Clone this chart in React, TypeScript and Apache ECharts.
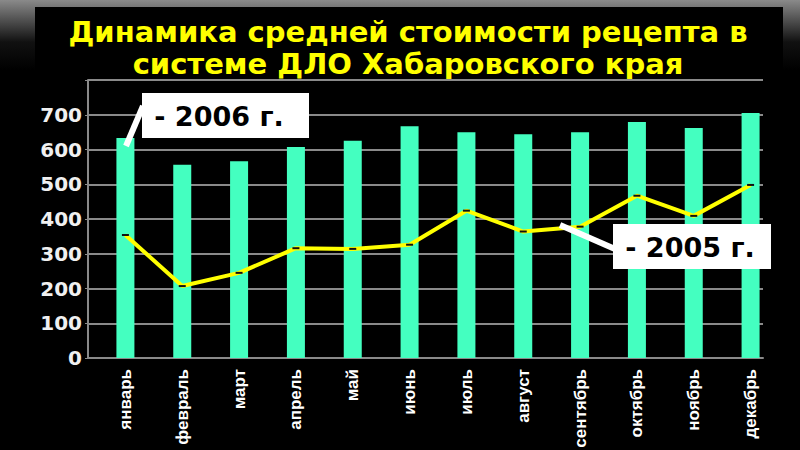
import React, { useEffect, useRef } from "react";
import * as echarts from "echarts";

const months = ["январь", "февраль", "март", "апрель", "май", "июнь", "июль", "август", "сентябрь", "октябрь", "ноябрь", "декабрь"];
const values2006 = [633, 556, 566, 607, 625, 667, 650, 644, 650, 679, 662, 705];
const values2005 = [354, 207, 245, 316, 314, 326, 424, 364, 378, 467, 409, 498];
const yTicks = [0, 100, 200, 300, 400, 500, 600, 700];
const titleLines = ["Динамика средней стоимости рецепта в", "системе ДЛО Хабаровского края"];
const label2006 = "- 2006 г.";
const label2005 = "- 2005 г.";

export default function App() {
  const ref = useRef<HTMLDivElement>(null);
  useEffect(() => {
    if (!ref.current) return;
    const chart = echarts.init(ref.current, null, { renderer: "svg" });
    const gridTop = 80;
    const gridBottom = 92;
    chart.setOption({
      animation: false,
      backgroundColor: "#000",
      grid: [
        { left: 88, right: 37, top: gridTop, bottom: gridBottom, containLabel: false, outerBoundsMode: "none" },
        { left: 97, right: 21, top: gridTop, bottom: gridBottom, containLabel: false, outerBoundsMode: "none" },
      ],
      xAxis: [
        {
          gridIndex: 0,
          type: "value",
          min: 0,
          max: 1,
          axisLine: { show: true, lineStyle: { color: "#8a8a8a", width: 2 } },
          axisTick: { show: false },
          axisLabel: { show: false },
          splitLine: { show: false },
        },
        {
          gridIndex: 1,
          type: "category",
          data: months,
          axisLine: { show: false },
          axisTick: { show: false },
          axisLabel: {
            rotate: 90,
            margin: 11,
            interval: 0,
            color: "#fff",
            fontFamily: "'Liberation Sans', Arial, sans-serif",
            fontWeight: "bold",
            fontSize: 17,
          },
        },
      ],
      yAxis: [
        {
          gridIndex: 0,
          type: "value",
          min: 0,
          max: 800,
          interval: 100,
          axisLine: { show: true, lineStyle: { color: "#8a8a8a", width: 2 } },
          axisTick: { show: true, length: 3, lineStyle: { color: "#8a8a8a" } },
          axisLabel: {
            margin: 6,
            color: "#f0f0f0",
            fontFamily: "DejaVu Sans, sans-serif",
            fontWeight: "bold",
            fontSize: 20,
            formatter: (v: number) => (yTicks.includes(v) ? String(v) : ""),
          },
          splitLine: { show: true, lineStyle: { color: "#8a8a8a", width: 2 } },
        },
        {
          gridIndex: 1,
          type: "value",
          min: 0,
          max: 800,
          show: false,
          splitLine: { show: false },
        },
      ],
      series: [
        {
          type: "bar",
          xAxisIndex: 1,
          yAxisIndex: 1,
          data: values2006,
          barWidth: 18,
          itemStyle: { color: "#44ffc0" },
        },
        {
          type: "line",
          xAxisIndex: 1,
          yAxisIndex: 1,
          data: values2005,
          lineStyle: { color: "#ffff00", width: 4 },
          symbol: "rect",
          symbolSize: [7, 2],
          itemStyle: { color: "#111" },
        },
      ],
      graphic: [
        {
          type: "rect",
          z: -10,
          shape: { x: 0, y: 0, width: 800, height: 70 },
          style: {
            fill: new echarts.graphic.LinearGradient(0, 0, 0, 1, [
              { offset: 0, color: "#8a8a8a" },
              { offset: 0.6, color: "#111" },
              { offset: 1, color: "#000" },
            ]),
          },
        },
        {
          type: "rect",
          z: -9,
          shape: { x: 35, y: 7, width: 748, height: 443 },
          style: { fill: "#000" },
        },
        {
          type: "text",
          x: 408,
          y: 16,
          style: {
            text: titleLines.join("\n"),
            fill: "#ffff00",
            font: "bold 29px 'DejaVu Sans', sans-serif",
            lineHeight: 32,
            align: "center",
            verticalAlign: "top",
          },
        },
        {
          type: "line",
          z: 100,
          shape: { x1: 143, y1: 106, x2: 126, y2: 146 },
          style: { stroke: "#fff", lineWidth: 6 },
        },
        {
          type: "rect",
          z: 101,
          shape: { x: 142, y: 93, width: 167, height: 45 },
          style: { fill: "#fff" },
        },
        {
          type: "text",
          z: 102,
          x: 219,
          y: 116,
          style: {
            text: label2006,
            fill: "#000",
            font: "bold 27px 'DejaVu Sans', sans-serif",
            align: "center",
            verticalAlign: "middle",
          },
        },
        {
          type: "line",
          z: 100,
          shape: { x1: 560, y1: 225, x2: 615, y2: 249 },
          style: { stroke: "#fff", lineWidth: 6 },
        },
        {
          type: "rect",
          z: 101,
          shape: { x: 613, y: 224, width: 158, height: 45 },
          style: { fill: "#fff" },
        },
        {
          type: "text",
          z: 102,
          x: 690,
          y: 247,
          style: {
            text: label2005,
            fill: "#000",
            font: "bold 27px 'DejaVu Sans', sans-serif",
            align: "center",
            verticalAlign: "middle",
          },
        },
      ],
    });
    return () => chart.dispose();
  }, []);
  return <div ref={ref} style={{ width: 800, height: 450, position: "fixed", left: 0, top: 0 }} />;
}
